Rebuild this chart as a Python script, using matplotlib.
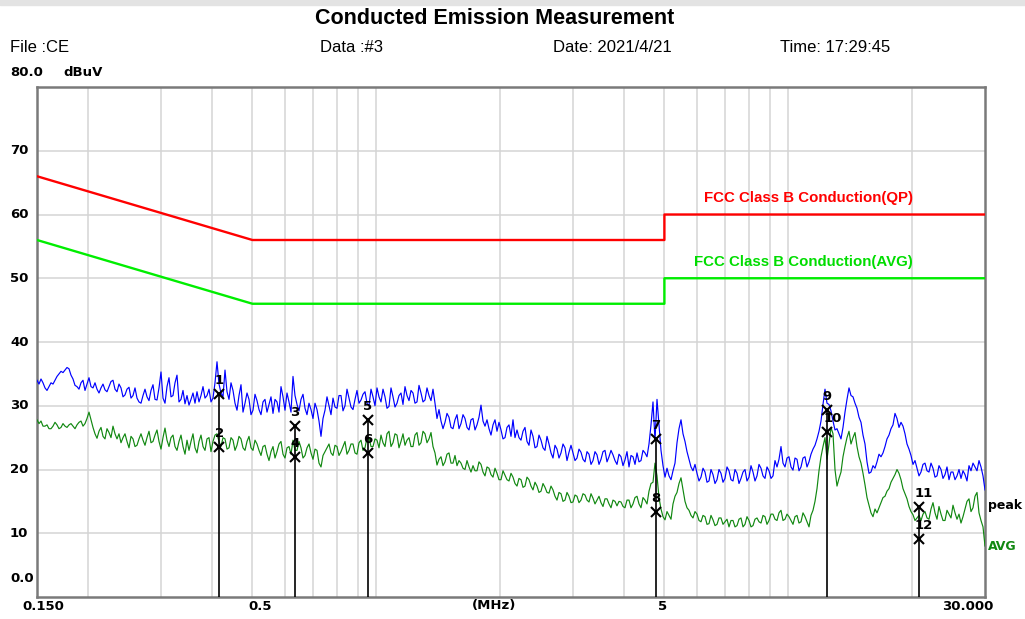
import numpy as np
import matplotlib
matplotlib.use("Agg")
import matplotlib.pyplot as plt
from matplotlib.ticker import FixedLocator, NullFormatter

# ---------------- data ----------------
# peak detector trace (dBuV) at the receiver sweep points
peak_dbuv = [
    34.0, 34.2, 32.8, 33.0, 33.4, 34.6, 35.4, 35.6, 35.8, 34.2,
    33.0, 33.6, 32.4, 34.4, 32.8, 32.6, 32.8, 32.5, 33.0, 34.0,
    32.2, 32.8, 31.7, 32.9, 31.6, 31.2, 30.4, 32.6, 30.8, 33.3,
    30.9, 35.3, 30.4, 34.4, 31.6, 34.8, 31.0, 30.3, 30.1, 32.0,
    32.2, 31.6, 31.2, 32.6, 31.2, 36.9, 32.0, 35.6, 31.0, 32.4,
    29.3, 33.3, 30.4, 31.0, 29.3, 30.8, 28.6, 31.0, 30.2, 28.8,
    30.6, 33.0, 29.3, 30.6, 34.6, 30.2, 31.0, 29.6, 30.4, 28.0,
    29.4, 25.2, 29.3, 30.0, 31.2, 29.6, 31.6, 30.0, 31.2, 29.4,
    32.4, 30.9, 32.2, 30.0, 31.4, 32.8, 30.6, 31.4, 29.9, 31.4,
    30.4, 32.0, 33.0, 30.8, 32.0, 30.6, 32.0, 30.9, 31.6, 32.6,
    28.0, 27.6, 27.4, 28.2, 26.4, 28.6, 27.2, 28.0, 26.2, 28.0,
    27.0, 30.1, 26.8, 26.4, 27.0, 26.0, 26.2, 25.0, 27.0, 27.8,
    26.2, 24.6, 26.6, 23.8, 25.2, 23.6, 24.6, 23.0, 24.0, 21.8,
    23.2, 22.6, 23.4, 22.7, 22.6, 21.8, 22.7, 21.2, 22.4, 21.4,
    22.3, 21.6, 23.0, 22.0, 22.3, 20.8, 22.0, 21.5, 20.4, 22.0,
    22.6, 21.4, 22.6, 24.0, 30.6, 31.0, 23.0, 18.8, 19.0, 19.8,
    24.2, 27.8, 24.4, 21.6, 19.8, 19.4, 18.8, 19.6, 18.2, 19.2,
    18.4, 19.4, 18.6, 19.8, 18.2, 19.4, 18.6, 20.0, 18.8, 19.6,
    19.0, 20.2, 18.6, 19.8, 19.0, 20.4, 23.6, 20.4, 22.0, 19.9,
    21.6, 20.4, 22.0, 21.2, 23.2, 24.8, 27.6, 32.6, 30.2, 27.6,
    26.4, 24.8, 29.0, 32.8, 31.4, 29.6, 27.4, 24.0, 19.4, 20.6,
    21.2, 22.0, 23.6, 25.4, 27.0, 28.0, 27.4, 25.6, 23.2, 20.8,
    20.2, 19.6, 21.0, 19.6, 20.2, 19.0, 20.0, 19.2, 18.4, 19.6,
    19.0, 18.6, 19.2, 20.6, 21.0, 19.8, 20.4, 16.8,
]
# peak values read between the sweep points above
peak_mid_dbuv = [
    33.4, 33.6, 32.4, 33.6, 34.0, 35.0, 35.2, 36.0, 34.8, 33.2,
    32.6, 34.0, 33.4, 33.0, 33.6, 32.0, 33.4, 32.2, 33.8, 32.6,
    33.4, 31.4, 32.6, 31.2, 32.8, 30.6, 31.6, 31.4, 32.4, 31.0,
    32.8, 31.2, 33.0, 31.4, 33.6, 30.6, 32.4, 31.6, 31.0, 30.4,
    30.6, 33.0, 31.6, 30.6, 33.6, 33.4, 31.4, 32.2, 33.6, 30.4,
    31.6, 29.0, 32.0, 28.6, 31.8, 29.4, 30.6, 29.0, 31.4, 31.0,
    29.0, 31.4, 32.0, 29.0, 31.6, 29.2, 31.8, 28.6, 29.4, 30.4,
    27.6, 28.0, 31.4, 28.6, 29.8, 31.6, 29.2, 32.6, 29.8, 31.0,
    30.4, 31.8, 30.4, 32.6, 30.0, 31.4, 32.6, 29.6, 32.8, 29.8,
    31.6, 30.2, 31.6, 32.4, 30.4, 33.2, 30.6, 32.8, 30.8, 30.4,
    29.4, 26.4, 28.8, 26.6, 27.8, 26.4, 28.6, 26.6, 27.8, 26.2,
    28.2, 27.6, 27.8, 25.4, 27.8, 27.4, 24.8, 26.6, 25.2, 25.0,
    25.0, 26.0, 24.4, 26.2, 23.4, 25.4, 23.4, 25.2, 22.6, 23.8,
    21.8, 24.0, 21.4, 23.8, 21.4, 23.2, 21.6, 22.8, 20.8, 22.8,
    20.8, 22.8, 21.2, 23.0, 21.4, 22.4, 20.6, 22.8, 22.2, 20.8,
    21.2, 23.0, 22.0, 27.0, 24.6, 27.0, 20.6, 20.2, 18.4, 21.0,
    26.4, 25.6, 22.8, 20.4, 20.8, 18.2, 20.2, 18.0, 20.0, 17.8,
    20.0, 18.0, 20.4, 18.4, 20.0, 17.8, 19.6, 18.2, 20.6, 18.2,
    20.8, 19.0, 20.4, 18.6, 21.4, 21.6, 21.0, 21.8, 20.4, 21.8,
    19.8, 21.8, 20.4, 22.4, 23.8, 26.0, 30.2, 30.4, 29.2, 26.2,
    25.6, 26.6, 31.0, 31.6, 30.4, 28.2, 25.4, 21.2, 19.6, 20.2,
    22.4, 22.6, 24.8, 26.4, 28.8, 26.6, 26.8, 24.0, 22.2, 21.4,
    19.0, 20.8, 19.8, 21.0, 18.8, 20.6, 18.6, 20.4, 19.6, 18.4,
    20.0, 19.8, 18.2, 19.8, 20.4, 21.4, 19.0,
]

# average detector trace (dBuV)
avg_dbuv = [
    27.8, 27.6, 26.8, 26.4, 26.8, 27.0, 26.6, 26.8, 27.0, 26.8,
    27.0, 27.6, 27.2, 29.0, 26.6, 24.9, 26.6, 24.8, 25.8, 26.8,
    24.8, 24.2, 25.6, 23.4, 24.8, 23.8, 25.6, 23.8, 26.0, 24.4,
    26.2, 23.2, 26.5, 23.6, 25.4, 23.0, 25.4, 22.4, 23.0, 25.6,
    22.6, 25.4, 23.0, 25.0, 24.4, 25.6, 23.6, 24.8, 23.4, 24.6,
    23.8, 24.8, 23.0, 25.2, 23.0, 24.0, 22.2, 23.8, 21.4, 23.6,
    22.8, 24.4, 21.8, 23.6, 24.6, 23.0, 23.4, 22.2, 24.0, 21.6,
    23.0, 20.4, 22.8, 24.0, 22.2, 23.6, 22.8, 24.4, 23.0, 24.0,
    22.4, 24.6, 23.4, 25.0, 23.6, 24.6, 25.4, 23.6, 26.0, 24.2,
    25.4, 24.4, 23.8, 25.0, 23.6, 25.8, 24.2, 25.6, 24.8, 23.6,
    20.7, 22.0, 21.2, 22.6, 21.0, 20.6, 21.0, 20.0, 20.4, 20.6,
    19.8, 20.8, 19.0, 20.2, 18.8, 19.4, 18.4, 19.1, 18.2, 18.8,
    17.4, 18.4, 17.4, 18.4, 16.8, 17.4, 16.6, 17.2, 16.3, 16.8,
    15.2, 16.2, 15.2, 15.8, 14.9, 15.8, 15.2, 16.0, 14.9, 15.5,
    15.2, 14.8, 15.4, 14.6, 15.2, 14.3, 14.9, 14.0, 15.2, 14.6,
    15.8, 14.0, 15.2, 16.6, 18.0, 19.0, 13.8, 12.1, 12.8, 14.6,
    16.4, 18.7, 15.0, 13.6, 12.4, 13.0, 11.8, 12.6, 11.5, 12.1,
    11.4, 12.4, 11.8, 11.0, 12.0, 11.2, 12.4, 11.4, 12.0, 11.2,
    12.4, 11.6, 12.6, 12.0, 13.0, 12.0, 13.6, 12.2, 12.6, 11.4,
    12.8, 11.8, 12.6, 11.0, 13.6, 17.0, 22.0, 25.0, 24.0, 25.6,
    17.4, 19.6, 23.6, 26.0, 25.0, 23.6, 21.0, 17.6, 14.4, 12.6,
    13.2, 14.8, 15.8, 17.0, 18.6, 20.0, 18.4, 16.2, 14.2, 12.9,
    12.4, 12.0, 13.4, 12.2, 14.8, 12.2, 13.0, 12.0, 13.0, 14.4,
    12.2, 11.6, 13.8, 15.4, 14.0, 16.4, 12.0, 8.0,
]
avg_mid_dbuv = [
    27.2, 26.8, 27.0, 26.4, 27.4, 26.4, 27.2, 26.6, 27.2, 26.4,
    27.4, 26.8, 28.0, 27.8, 25.6, 26.0, 25.2, 26.4, 25.0, 25.6,
    25.6, 25.0, 24.4, 25.2, 23.6, 24.8, 24.6, 25.0, 24.2, 25.4,
    24.4, 25.0, 24.6, 25.0, 23.6, 24.4, 23.6, 24.6, 24.4, 23.4,
    24.4, 23.6, 24.8, 22.8, 25.4, 24.4, 25.0, 23.2, 25.0, 23.0,
    25.2, 23.4, 24.4, 23.4, 24.6, 23.0, 23.6, 22.4, 22.8, 21.8,
    24.0, 22.4, 23.4, 22.4, 23.0, 24.4, 21.8, 23.4, 22.6, 23.2,
    21.0, 22.2, 23.4, 22.6, 23.8, 22.2, 23.6, 22.4, 24.0, 22.6,
    24.2, 23.0, 25.0, 23.6, 24.8, 23.4, 24.2, 25.6, 23.6, 25.6,
    23.4, 25.6, 24.6, 23.6, 25.4, 23.8, 26.0, 24.2, 25.8, 22.6,
    21.6, 20.6, 22.4, 21.0, 22.2, 21.4, 20.2, 21.4, 19.6, 19.8,
    21.2, 19.6, 20.4, 19.2, 20.2, 18.4, 19.8, 18.4, 19.4, 17.8,
    18.6, 17.2, 18.8, 17.4, 18.0, 16.4, 17.8, 16.4, 17.4, 15.8,
    16.4, 15.0, 16.4, 14.8, 16.0, 14.8, 16.2, 15.2, 16.2, 14.6,
    15.8, 14.2, 15.4, 14.0, 15.0, 15.0, 14.2, 15.2, 14.0, 15.6,
    14.6, 15.6, 14.6, 17.8, 21.0, 15.6, 12.6, 13.4, 12.2, 15.8,
    17.8, 16.8, 14.0, 12.8, 13.4, 12.0, 12.8, 11.4, 12.8, 11.2,
    12.4, 11.4, 12.2, 12.0, 11.0, 12.2, 11.0, 12.6, 11.0, 12.2,
    11.8, 12.8, 11.4, 13.0, 12.2, 13.2, 12.0, 13.0, 12.0, 12.6,
    11.6, 13.2, 11.8, 12.8, 15.0, 19.8, 23.6, 21.6, 26.6, 20.0,
    18.6, 22.0, 25.0, 24.0, 25.8, 22.0, 19.4, 15.6, 13.2, 13.8,
    14.0, 15.6, 16.6, 18.0, 19.2, 19.4, 17.0, 15.4, 13.4, 12.0,
    12.8, 13.0, 12.4, 13.8, 13.2, 14.2, 12.0, 13.6, 12.4, 13.2,
    13.0, 12.6, 15.0, 13.4, 15.8, 13.2, 11.0,
]

# FCC Class B conducted limits (MHz, dBuV)
qp_limit_f = [0.15, 0.5, 5.0, 5.0, 30.0]
qp_limit = [66, 56, 56, 60, 60]
avg_limit_f = [0.15, 0.5, 5.0, 5.0, 30.0]
avg_limit = [56, 46, 46, 50, 50]

# markers
marker_no = ["1", "2", "3", "4", "5", "6", "7", "8", "9", "10", "11", "12"]
marker_f = [0.415, 0.415, 0.634, 0.634, 0.954, 0.954, 4.77, 4.77, 12.4, 12.4, 20.7, 20.7]
marker_lvl = [31.9, 23.6, 26.8, 22.0, 27.8, 22.6, 24.8, 13.3, 29.3, 25.9, 14.1, 9.1]

y_ticks = [10, 20, 30, 40, 50, 60, 70]
x_grid = [0.2, 0.3, 0.4, 0.5, 0.6, 0.7, 0.8, 0.9, 1, 2, 3, 4, 5, 6, 7, 8, 9, 10, 20]

# sweep frequencies (MHz): log-spaced receiver steps, with the readings in between
f_main = np.geomspace(0.15, 30.0, len(peak_dbuv))
f_mid = np.sqrt(f_main[:-1] * f_main[1:])
freq_all = np.empty(len(f_main) + len(f_mid))
freq_all[0::2] = f_main
freq_all[1::2] = f_mid
peak_all = np.empty_like(freq_all)
peak_all[0::2] = peak_dbuv
peak_all[1::2] = peak_mid_dbuv
avg_all = np.empty_like(freq_all)
avg_all[0::2] = avg_dbuv
avg_all[1::2] = avg_mid_dbuv

# ---------------- figure ----------------
W, H = 1025, 619
fig = plt.figure(figsize=(W / 100, H / 100), dpi=100)
L, R, T, B = 37, 985, 87, 597
ax = fig.add_axes([L / W, 1 - B / H, (R - L) / W, (B - T) / H])


def fx(px):
    return px / W


def fy(py):
    return 1 - py / H


lab_font = ["DejaVu Sans"]
sans = ["Liberation Sans", "DejaVu Sans"]

# top grey strip
fig.patches.append(plt.Rectangle((0, fy(5)), 1, 5 / H, transform=fig.transFigure,
                                 color="#e3e3e3", zorder=0))

ax.set_xscale("log")
ax.set_xlim(0.15, 30)
ax.set_ylim(0, 80)
ax.xaxis.set_major_locator(FixedLocator(x_grid))
ax.xaxis.set_minor_locator(FixedLocator([]))
ax.xaxis.set_major_formatter(NullFormatter())
ax.xaxis.set_minor_formatter(NullFormatter())
ax.set_yticks(y_ticks)
ax.set_yticklabels([])
ax.tick_params(length=0)
ax.grid(True, color="#d4d4d4", lw=1.1)
ax.set_axisbelow(True)
for s in ax.spines.values():
    s.set_color("#7a7a7a")
    s.set_linewidth(1.8)

# limit lines
ax.plot(qp_limit_f, qp_limit, color="#ff0000", lw=1.7, zorder=3)
ax.plot(avg_limit_f, avg_limit, color="#00ee00", lw=1.7, zorder=3)

# traces
ax.plot(freq_all, peak_all, color="#0000ff", lw=0.85, zorder=4)
ax.plot(freq_all, avg_all, color="#118811", lw=0.85, zorder=4)

# marker stems (from upper marker of each pair to the bottom)
for i in range(0, len(marker_f), 2):
    top = max(marker_lvl[i], marker_lvl[i + 1])
    ax.plot([marker_f[i], marker_f[i]], [0, top], color="black", lw=1.2, zorder=5)

ax.plot(marker_f, marker_lvl, linestyle="none", marker="x", color="black",
        markersize=7, mew=1.5, zorder=6)
for no, f, lv in zip(marker_no, marker_f, marker_lvl):
    dx = 4 if len(no) > 1 else 0
    ax.annotate(no, (f, lv), xytext=(dx, 5), textcoords="offset points",
                ha="center", va="bottom", fontsize=9.5, fontweight="bold",
                family=lab_font, color="black", zorder=7)

# limit labels
ax.text(0.924, 0.782, "FCC Class B Conduction(QP)", transform=ax.transAxes,
        ha="right", va="center", color="#ff0000", fontsize=10.8, fontweight="bold",
        family=sans)
ax.text(0.924, 0.657, "FCC Class B Conduction(AVG)", transform=ax.transAxes,
        ha="right", va="center", color="#00dd00", fontsize=10.8, fontweight="bold",
        family=sans)

# header
fig.text(fx(495), fy(18), "Conducted Emission Measurement", ha="center", va="center",
         fontsize=15.5, fontweight="bold", family=sans)
for px, s in [(10, "File :CE"), (320, "Data :#3"), (553, "Date: 2021/4/21"),
              (780, "Time: 17:29:45")]:
    fig.text(fx(px), fy(47), s, ha="left", va="center", fontsize=12, family=sans)
fig.text(fx(10), fy(73), "80.0", ha="left", va="center", fontsize=9.5,
         fontweight="bold", family=lab_font)
fig.text(fx(63), fy(73), "dBuV", ha="left", va="center", fontsize=9.5,
         fontweight="bold", family=lab_font)

# y labels
for v in y_ticks:
    py = B - (B - T) * v / 80
    fig.text(fx(10), fy(py), str(v), ha="left", va="center", fontsize=9.5,
             fontweight="bold", family=lab_font)
fig.text(fx(10), fy(578), "0.0", ha="left", va="center", fontsize=9.5,
         fontweight="bold", family=lab_font)

# x labels
for px, s in [(43, "0.150"), (260, "0.5"), (494, "(MHz)"), (663, "5"), (968, "30.000")]:
    fig.text(fx(px), fy(606), s, ha="center", va="center", fontsize=9.5,
             fontweight="bold", family=lab_font)

# trace names
fig.text(fx(988), fy(505), "peak", ha="left", va="center", fontsize=9,
         fontweight="bold", family=lab_font, color="black")
fig.text(fx(988), fy(547), "AVG", ha="left", va="center", fontsize=9,
         fontweight="bold", family=lab_font, color="#118811")

fig.savefig("out.png", dpi=100)
